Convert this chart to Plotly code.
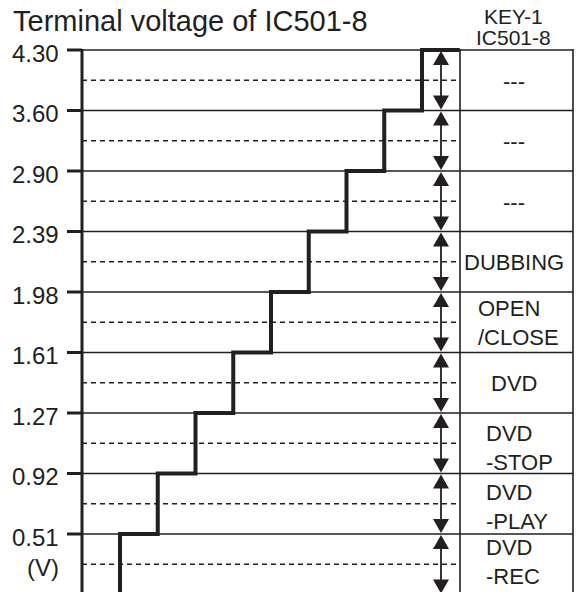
import plotly.graph_objects as go

# ---- data -------------------------------------------------------------
level_labels = ["0.51", "0.92", "1.27", "1.61", "1.98", "2.39", "2.90", "3.60", "4.30"]
voltages = [0.51, 0.92, 1.27, 1.61, 1.98, 2.39, 2.90, 3.60, 4.30]
# key assigned to the band just below each voltage level
key_labels = ["DVD\n-REC", "DVD\n-PLAY", "DVD\n-STOP", "DVD", "OPEN\n/CLOSE",
              "DUBBING", "---", "---", "---"]
title_text = "Terminal voltage of IC501-8"
header_lines = ["KEY-1", "IC501-8"]
unit_text = "(V)"

# ---- geometry / style -------------------------------------------------
W, H = 577, 592
COL0_PX, COL_PX = 120.0, 37.75      # staircase column 0 and column pitch (px)
LVL0_PX, LVL_PX = 534.0, 60.5       # level 0 row and row pitch (px)
INK = "#231f20"
FONT = "Liberation Sans, Arial, Helvetica, sans-serif"

AXIS_X, TICK_X0, LABEL_X = 82, 67, 61
DIV_X, RIGHT_X, ARROW_X = 460, 573, 441
KEY_CENTER_X = 514
TRI_W, TRI_H = 16, 14


def xd(px):
    return (px - COL0_PX) / COL_PX


def yd(py):
    return (LVL0_PX - py) / LVL_PX


def dy(pix):
    return pix / LVL_PX


n = len(level_labels)
y_bottom = -1  # next (unlabelled) row just below the visible area

# staircase: rise at column k to level k, then run to column k+1
sx, sy = [0], [y_bottom]
for k in range(n):
    sx += [k, k + 1]
    sy += [k, k]

fig = go.Figure()
fig.add_trace(go.Scatter(x=sx, y=sy, mode="lines", hoverinfo="skip",
                         line=dict(color=INK, width=4), showlegend=False))

shapes = []
line_w = 1.6
hw = TRI_W / 2 / COL_PX
for i in range(n):
    # solid level line
    shapes.append(dict(type="line", xref="x", yref="y", x0=xd(AXIS_X), x1=xd(RIGHT_X),
                       y0=i, y1=i, line=dict(color=INK, width=line_w), layer="below"))
    # dashed mid-band line
    shapes.append(dict(type="line", xref="x", yref="y", x0=xd(AXIS_X), x1=xd(DIV_X),
                       y0=i - 0.5, y1=i - 0.5,
                       line=dict(color=INK, width=line_w, dash="5px,4px"), layer="below"))
    # tick mark
    shapes.append(dict(type="line", xref="x", yref="y", x0=xd(TICK_X0), x1=xd(AXIS_X),
                       y0=i, y1=i, line=dict(color=INK, width=3)))
    # double-headed arrow spanning the band below the level
    top, bot = i, i - 1
    shapes.append(dict(type="line", xref="x", yref="y", x0=xd(ARROW_X), x1=xd(ARROW_X),
                       y0=top - dy(4), y1=bot + dy(4), line=dict(color=INK, width=1.8)))
    shapes.append(dict(type="path", xref="x", yref="y", fillcolor=INK, line=dict(width=0),
                       path=f"M {xd(ARROW_X)},{top - dy(1)} L {xd(ARROW_X) + hw},{top - dy(1 + TRI_H)} "
                            f"L {xd(ARROW_X) - hw},{top - dy(1 + TRI_H)} Z"))
    shapes.append(dict(type="path", xref="x", yref="y", fillcolor=INK, line=dict(width=0),
                       path=f"M {xd(ARROW_X)},{bot + dy(1)} L {xd(ARROW_X) + hw},{bot + dy(1 + TRI_H)} "
                            f"L {xd(ARROW_X) - hw},{bot + dy(1 + TRI_H)} Z"))

# vertical frame lines
for px, w in ((AXIS_X, 3), (DIV_X, 1.6), (RIGHT_X, 1.6)):
    shapes.append(dict(type="line", xref="x", yref="y", x0=xd(px), x1=xd(px),
                       y0=y_bottom, y1=n - 1 + dy(1), line=dict(color=INK, width=w)))

ann = []
ann.append(dict(text=title_text, x=xd(11), y=yd(21), xanchor="left", yanchor="middle",
                showarrow=False, font=dict(size=29, color=INK, family=FONT)))
for j, t in enumerate(header_lines):
    ann.append(dict(text=t, x=xd(513), y=yd(16 + 21.5 * j), xanchor="center", yanchor="middle",
                    showarrow=False, font=dict(size=21, color=INK, family=FONT)))
for i, t in enumerate(level_labels):
    ann.append(dict(text=t, x=xd(LABEL_X), y=i, xanchor="right", yanchor="middle", yshift=-3,
                    showarrow=False, font=dict(size=24, color=INK, family=FONT)))
ann.append(dict(text=unit_text, x=xd(LABEL_X), y=-0.5, xanchor="right", yanchor="middle",
                yshift=-3, showarrow=False, font=dict(size=24, color=INK, family=FONT)))

# two-line key labels: left edge (px) and downward shift of the block (px)
two_line_left = {"OPEN\n/CLOSE": 476}
two_line_shift = {"OPEN\n/CLOSE": 0.5, "DVD\n-STOP": 5, "DVD\n-PLAY": 3, "DVD\n-REC": -2.5}
for i, t in enumerate(key_labels):
    yc = i - 0.5
    if "\n" not in t:
        ann.append(dict(text=t, x=xd(KEY_CENTER_X), y=yc, xanchor="center", yanchor="middle",
                        yshift=-1, showarrow=False, font=dict(size=22, color=INK, family=FONT)))
    else:
        ann.append(dict(text=t.replace("\n", "<br>"), x=xd(two_line_left.get(t, 484)), y=yc,
                        xanchor="left", yanchor="middle", align="left",
                        yshift=-two_line_shift.get(t, 0), showarrow=False,
                        font=dict(size=22, color=INK, family=FONT)))

fig.update_layout(
    width=W, height=H, margin=dict(l=0, r=0, t=0, b=0),
    paper_bgcolor="white", plot_bgcolor="white",
    xaxis=dict(range=[xd(0), xd(W)], visible=False, fixedrange=True),
    yaxis=dict(range=[yd(H), yd(0)], visible=False, fixedrange=True),
    shapes=shapes, annotations=ann, showlegend=False,
)
fig.write_html("out.html")
